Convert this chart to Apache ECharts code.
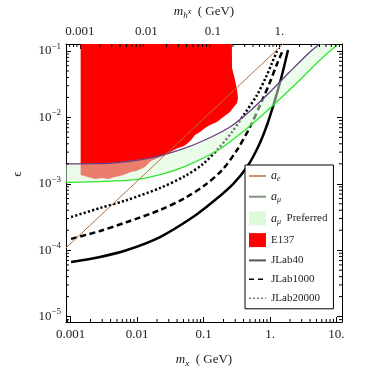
<!DOCTYPE html>
<html>
<head>
<meta charset="utf-8">
<script src="https://cdn.jsdelivr.net/npm/echarts@6/dist/echarts.min.js"></script>
<style>
  html, body { margin: 0; padding: 0; background: #fff; }
  #chart { width: 374px; height: 374px; }
</style>
</head>
<body>
<div id="chart"></div>
<script>
// axis ranges (log axes)
var X_MIN = 8.55e-4, X_MAX = 12.1;
var TOP_MIN = 6.16e-4, TOP_MAX = 8.71;
var Y_MIN = 8.3e-6, Y_MAX = 0.1274;

// tick labels
var xMajor = [0.001, 0.01, 0.1, 1, 10];
var xLabels = ['0.001', '0.01', '0.1', '1.', '10.'];
var topMajor = [0.001, 0.01, 0.1, 1];
var topLabels = ['0.001', '0.01', '0.1', '1.'];
var yMajor = [1e-5, 1e-4, 1e-3, 1e-2, 1e-1];
var yExp = ['\u22125', '\u22124', '\u22123', '\u22122', '\u22121'];
var tickMult = [2, 3, 4, 5, 6, 7, 8, 9];
var tickDecades = [1e-6, 1e-5, 1e-4, 1e-3, 1e-2, 1e-1, 1, 10];

// a_e bound
var aeM = [0.00085, 0.01, 0.1, 1, 2];
var aeEps = [1.08e-4, 1.09e-3, 9.5e-3, 0.083, 0.16];

// a_mu band: upper (purple) and lower (green) edges
var amuUpM = [0.00085, 0.004, 0.016, 0.044, 0.105, 0.25, 0.5, 1, 2, 4, 5.6];
var amuUpEps = [2.0e-3, 2.05e-3, 2.45e-3, 3.23e-3, 4.57e-3, 7.16e-3, 1.25e-2, 2.41e-2, 4.9e-2, 9.66e-2, 0.127];
var amuLowM = [0.00085, 0.0039, 0.0111, 0.0313, 0.0695, 0.177, 0.421, 0.90, 2.82, 5.65, 10.2];
var amuLowEps = [1.05e-3, 1.10e-3, 1.18e-3, 1.51e-3, 2.06e-3, 3.34e-3, 6.46e-3, 1.25e-2, 3.66e-2, 7.31e-2, 0.123];

// E137 excluded region outline
var e137M = [0.00142, 0.00142, 0.00183, 0.00233, 0.00298, 0.00367, 0.00467, 0.00555, 0.00684, 0.00813,
  0.00966, 0.01148, 0.01318, 0.01462, 0.01624, 0.0207, 0.0264, 0.0336, 0.0414, 0.0509,
  0.0585, 0.0649, 0.0745, 0.0886, 0.1054, 0.1253, 0.1596, 0.1897, 0.2255, 0.250,
  0.278, 0.319, 0.330, 0.319, 0.298, 0.278, 0.2685, 0.2657];
var e137Eps = [0.3, 1.36e-3, 1.27e-3, 1.18e-3, 1.22e-3, 1.18e-3, 1.27e-3, 1.31e-3, 1.41e-3, 1.51e-3,
  1.56e-3, 1.67e-3, 1.79e-3, 1.99e-3, 2.20e-3, 2.45e-3, 2.72e-3, 3.12e-3, 3.46e-3, 3.71e-3,
  4.11e-3, 4.57e-3, 5.43e-3, 6.03e-3, 6.92e-3, 7.69e-3, 8.53e-3, 9.80e-3, 1.12e-2, 1.21e-2,
  1.39e-2, 1.65e-2, 1.96e-2, 2.59e-2, 3.66e-2, 4.83e-2, 5.55e-2, 0.3];

// JLab reach curves
var jlab40M = [0.00102, 0.00278, 0.00708, 0.0222, 0.0695, 0.149, 0.278, 0.451, 0.661, 0.902, 1.189, 1.514, 1.866];
var jlab40Eps = [6.64e-5, 7.91e-5, 1.007e-4, 1.58e-4, 3.16e-4, 5.70e-4, 9.93e-4, 1.79e-3, 3.58e-3, 7.69e-3, 1.83e-2, 4.35e-2, 0.1035];
var jlab1000M = [0.00102, 0.00278, 0.00708, 0.0222, 0.0527, 0.1054, 0.190, 0.319, 0.500, 0.733, 1.0, 1.274, 1.567];
var jlab1000Eps = [1.48e-4, 1.95e-4, 2.66e-4, 4.03e-4, 6.11e-4, 9.59e-4, 1.61e-3, 3.23e-3, 7.16e-3, 1.65e-2, 3.41e-2, 6.37e-2, 0.1035];
var jlab20000M = [0.00102, 0.00278, 0.00708, 0.0222, 0.0527, 0.0982, 0.165, 0.2685, 0.421, 0.638, 0.871, 1.072, 1.274];
var jlab20000Eps = [3.16e-4, 4.32e-4, 5.70e-4, 8.65e-4, 1.31e-3, 1.99e-3, 3.34e-3, 6.03e-3, 1.16e-2, 2.17e-2, 4.06e-2, 6.59e-2, 0.1];

var FONT = 'Liberation Serif';
var TXT = '#222';
var NO_DOT = { color: 'rgba(0,0,0,0)', borderWidth: 0 };

function zip(a, b) { return a.map(function (v, i) { return [v, b[i]]; }); }

var minorVals = [];
tickDecades.forEach(function (d) { tickMult.forEach(function (k) { minorVals.push(k * d); }); });

function pickLabel(v, vals, labels) {
  for (var i = 0; i < vals.length; i++) {
    if (Math.abs(Math.log10(v) - Math.log10(vals[i])) < 1e-6) return labels[i];
  }
  return '';
}

function polygonSeries(name, pts, color, z) {
  return {
    type: 'custom', name: name, z: z, clip: true, silent: true,
    itemStyle: { color: color },
    data: [pts[1]],
    renderItem: function (params, api) {
      var points = pts.map(function (p) { return api.coord(p); });
      return { type: 'polygon', shape: { points: points }, style: { fill: color } };
    }
  };
}

function curve(name, ms, es, color, width, type, z) {
  return {
    type: 'line', name: name, z: z, data: zip(ms, es),
    symbol: 'none', smooth: 0.3,
    itemStyle: { color: color },
    lineStyle: { color: color, width: width, type: type }
  };
}

var bandPts = zip(amuUpM, amuUpEps).concat(zip(amuLowM, amuLowEps).reverse());

var myChart = echarts.init(document.getElementById('chart'));
var option = {
  animation: false,
  backgroundColor: '#ffffff',
  grid: { left: 66, top: 44, width: 276, height: 278 },
  legend: {
    orient: 'vertical',
    left: 245, top: 165,
    padding: [5, 6, 5, 3],
    itemWidth: 17, itemHeight: 14, itemGap: 7.7,
    borderColor: '#000', borderWidth: 1,
    backgroundColor: '#fff',
    selectedMode: false,
    data: [
      { name: 'ae', itemStyle: NO_DOT, lineStyle: { color: '#b07040', width: 1.5 } },
      { name: 'amu', itemStyle: NO_DOT, lineStyle: { color: '#7f977f', width: 2 } },
      { name: 'amuPref', icon: 'rect', itemStyle: { color: '#ddfadd' } },
      { name: 'E137', icon: 'rect', itemStyle: { color: '#ff0000' } },
      { name: 'JLab40', itemStyle: NO_DOT, lineStyle: { color: '#555', width: 2 } },
      { name: 'JLab1000', itemStyle: NO_DOT, lineStyle: { color: '#000', width: 1.5, type: [5, 4] } },
      { name: 'JLab20000', itemStyle: NO_DOT, lineStyle: { color: '#777', width: 1.5, type: [2, 2] } }
    ],
    formatter: function (name) {
      if (name === 'ae') return '{it|a}{sub|e}';
      if (name === 'amu') return '{it|a}{sub|\u03bc}';
      if (name === 'amuPref') return '{it|a}{sub|\u03bc}{t|  Preferred}';
      return '{t|' + name + '}';
    },
    textStyle: {
      fontFamily: FONT, fontSize: 11, color: TXT,
      rich: {
        it: { fontFamily: FONT, fontStyle: 'italic', fontSize: 12, lineHeight: 14, color: TXT },
        sub: { fontFamily: FONT, fontStyle: 'italic', fontSize: 8, lineHeight: 8, verticalAlign: 'bottom', color: TXT },
        t: { fontFamily: FONT, fontSize: 11, lineHeight: 14, color: TXT }
      }
    }
  },
  xAxis: [{
    type: 'log', logBase: 10, position: 'bottom', min: X_MIN, max: X_MAX,
    name: '{m|m}{s|x}{n|  ( GeV)}', nameLocation: 'middle', nameGap: 30,
    nameTextStyle: {
      rich: {
        m: { fontFamily: FONT, fontStyle: 'italic', fontSize: 13, lineHeight: 16, color: TXT },
        s: { fontFamily: FONT, fontStyle: 'italic', fontSize: 9, lineHeight: 9, verticalAlign: 'bottom', color: TXT },
        n: { fontFamily: FONT, fontSize: 13, lineHeight: 16, color: TXT }
      }
    },
    axisLine: { lineStyle: { color: '#000', width: 1 } },
    axisTick: { inside: true, length: 5, lineStyle: { color: '#000' } },
    axisLabel: {
      margin: 6, fontFamily: FONT, fontSize: 13, color: TXT,
      showMinLabel: false, showMaxLabel: false,
      formatter: function (v) { return pickLabel(v, xMajor, xLabels); }
    },
    splitLine: { show: false }, minorTick: { show: false }
  }, {
    type: 'log', logBase: 10, position: 'top', min: TOP_MIN, max: TOP_MAX,
    name: '{m|m}{h|h}{x|x}{n|  ( GeV)}', nameLocation: 'middle', nameGap: 24,
    nameTextStyle: {
      rich: {
        m: { fontFamily: FONT, fontStyle: 'italic', fontSize: 13, lineHeight: 16, color: TXT },
        h: { fontFamily: FONT, fontStyle: 'italic', fontSize: 9, lineHeight: 9, verticalAlign: 'bottom', color: TXT },
        x: { fontFamily: FONT, fontStyle: 'italic', fontSize: 8, lineHeight: 12, verticalAlign: 'middle', color: TXT },
        n: { fontFamily: FONT, fontSize: 13, lineHeight: 16, color: TXT }
      }
    },
    axisLine: { lineStyle: { color: '#000', width: 1 } },
    axisTick: { inside: true, length: 5, lineStyle: { color: '#000' } },
    axisLabel: {
      margin: 6, fontFamily: FONT, fontSize: 13, color: TXT,
      showMinLabel: false, showMaxLabel: false,
      formatter: function (v) { return pickLabel(v, topMajor, topLabels); }
    },
    splitLine: { show: false }
  }],
  yAxis: [{
    type: 'log', logBase: 10, position: 'left', min: Y_MIN, max: Y_MAX,
    name: '\u03f5', nameLocation: 'middle', nameGap: 42,
    nameTextStyle: { fontFamily: FONT, fontSize: 13, color: TXT, padding: [0, 0, 0, 18] },
    axisLine: { lineStyle: { color: '#000', width: 1 } },
    axisTick: { inside: true, length: 5, lineStyle: { color: '#000' } },
    axisLabel: {
      margin: 5, color: TXT,
      showMinLabel: false, showMaxLabel: false,
      formatter: function (v) {
        var e = pickLabel(v, yMajor, yExp);
        return e ? '{b|10}{s|' + e + '}' : '';
      },
      rich: {
        b: { fontFamily: FONT, fontSize: 13, lineHeight: 18, color: TXT },
        s: { fontFamily: FONT, fontSize: 9, lineHeight: 10, verticalAlign: 'top', color: TXT }
      }
    },
    splitLine: { show: false }
  }, {
    type: 'log', logBase: 10, position: 'right', min: Y_MIN, max: Y_MAX,
    axisLine: { lineStyle: { color: '#000', width: 1 } },
    axisTick: { inside: true, length: 5, lineStyle: { color: '#000' } },
    axisLabel: { show: false },
    splitLine: { show: false }
  }],
  series: [
    polygonSeries('E137', zip(e137M, e137Eps), '#ff0000', 1),
    curve('JLab40', jlab40M, jlab40Eps, '#000', 2.5, 'solid', 2),
    curve('JLab1000', jlab1000M, jlab1000Eps, '#000', 2.5, [6, 3.5], 2),
    curve('JLab20000', jlab20000M, jlab20000Eps, '#000', 2.5, [2.2, 2.2], 2),
    polygonSeries('amuPref', bandPts, 'rgba(215,250,215,0.5)', 3),
    curve('amu', amuUpM, amuUpEps, '#6b3c7d', 1.3, 'solid', 4),
    curve('amuLow', amuLowM, amuLowEps, '#2ee62e', 1.3, 'solid', 4),
    {
      type: 'line', name: 'ae', z: 5, data: zip(aeM, aeEps),
      symbol: 'none',
      itemStyle: { color: '#b07040' }, lineStyle: { color: '#b07040', width: 1 }
    }, {
      // minor ticks: bottom, left, right
      type: 'custom', name: 'minorTicks', z: 10, silent: true,
      xAxisIndex: 0, yAxisIndex: 0,
      data: [[0.01, 0.001]],
      renderItem: function (params, api) {
        var cs = params.coordSys, kids = [];
        minorVals.forEach(function (v) {
          if (v > X_MIN && v < X_MAX) {
            var px = api.coord([v, 1e-3])[0];
            kids.push({ type: 'line', shape: { x1: px, y1: cs.y + cs.height, x2: px, y2: cs.y + cs.height - 3 }, style: { stroke: '#000', lineWidth: 1 } });
          }
          if (v > Y_MIN && v < Y_MAX) {
            var py = api.coord([0.01, v])[1];
            kids.push({ type: 'line', shape: { x1: cs.x, y1: py, x2: cs.x + 3, y2: py }, style: { stroke: '#000', lineWidth: 1 } });
            kids.push({ type: 'line', shape: { x1: cs.x + cs.width, y1: py, x2: cs.x + cs.width - 3, y2: py }, style: { stroke: '#000', lineWidth: 1 } });
          }
        });
        return { type: 'group', children: kids };
      }
    }, {
      // minor ticks on the top axis
      type: 'custom', name: 'topTicks', z: 10, silent: true,
      xAxisIndex: 1, yAxisIndex: 0,
      data: [[0.01, 0.001]],
      renderItem: function (params, api) {
        var cs = params.coordSys, kids = [];
        minorVals.forEach(function (v) {
          if (v > TOP_MIN && v < TOP_MAX) {
            var px = api.coord([v, 1e-3])[0];
            kids.push({ type: 'line', shape: { x1: px, y1: cs.y, x2: px, y2: cs.y + 3 }, style: { stroke: '#000', lineWidth: 1 } });
          }
        });
        return { type: 'group', children: kids };
      }
    }
  ]
};
myChart.setOption(option);
</script>
</body>
</html>
